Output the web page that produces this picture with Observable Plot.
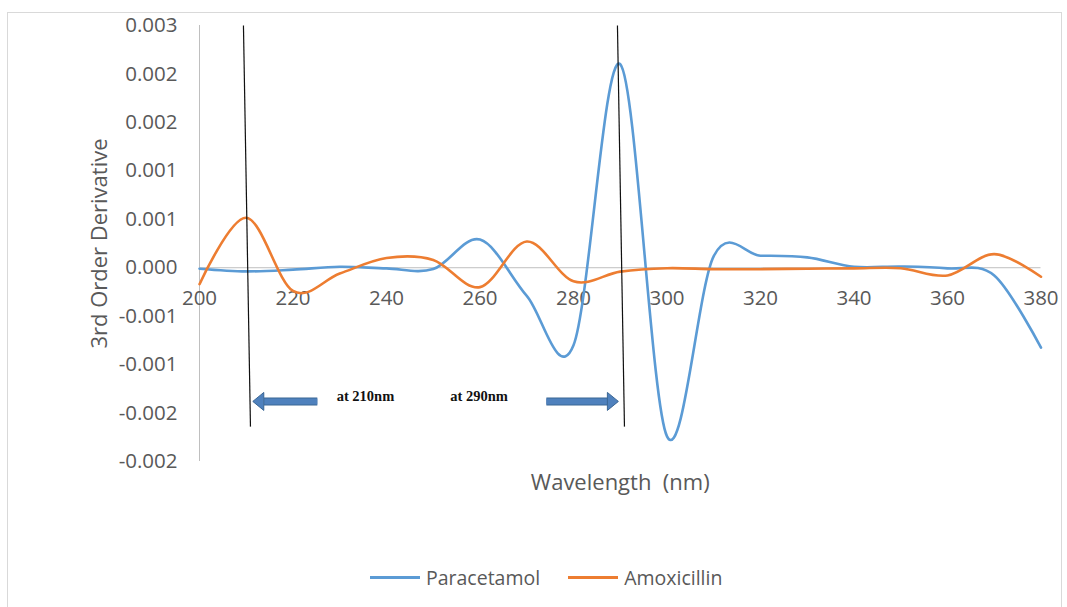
<!DOCTYPE html>
<html>
<head>
<meta charset="utf-8">
<script src="https://cdn.jsdelivr.net/npm/d3@7"></script>
<script src="https://cdn.jsdelivr.net/npm/@observablehq/plot@0.6"></script>
<style>
  html, body { margin: 0; padding: 0; background: #fff; }
  #wrap { position: relative; width: 1067px; height: 607px; overflow: hidden; font-family: "Open Sans", sans-serif; }
  #frame { position: absolute; left: 7px; top: 12px; width: 1055px; height: 600px; border: 1px solid #d9d9d9; box-sizing: border-box; }
  #chart { position: absolute; left: 0; top: 0; }
  #legend { position: absolute; left: 370px; top: 563px; height: 28px; display: flex; align-items: center; font-size: 19.5px; color: #595959; }
  .item { display: flex; align-items: center; margin-right: 28px; }
  .swatch { width: 50px; height: 3px; margin-right: 6px; }
</style>
</head>
<body>
<div id="wrap">
  <div id="frame"></div>
  <div id="chart"></div>
  <div id="legend"></div>
</div>
<script>
// ---- data (10 nm steps) ----
const wavelength = [200,210,220,230,240,250,260,270,280,290,300,310,320,330,340,350,360,370,380];
const paracetamol = [-0.00001,-0.000038,-0.00002,0.00001,-0.000007,-0.000014,0.00029,-0.00029,-0.0008,0.0021,-0.00174,0.00012,0.000124,0.000107,0.00001,0.000013,-0.000007,-0.00008,-0.000825];
const amoxicillin = [-0.00017,0.000515,-0.00024,-0.00006,0.0001,0.00008,-0.0002,0.00027,-0.00014,-0.00004,-0.000005,-0.000015,-0.000015,-0.00001,-0.000007,-0.000005,-0.00008,0.00014,-0.000093];

const seriesNames = ["Paracetamol", "Amoxicillin"];
const seriesColors = ["#5b9bd5", "#ed7d31"];

const xTicks = [200,220,240,260,280,300,320,340,360,380];
const yTicks = [0.0025,0.002,0.0015,0.001,0.0005,0,-0.0005,-0.001,-0.0015,-0.002];
const yTickLabels = ["0.003","0.002","0.002","0.001","0.001","0.000","-0.001","-0.001","-0.002","-0.002"];

// annotation: marker lines at 210 nm and 290 nm
const markerTopX = [209.4, 289.4];
const markerBottomX = [210.9, 290.9];
const markerTopY = 0.0025;
const markerBottomY = -0.00164;
// block arrows
const arrowY = -0.00138;
const arrowTail = [225.2, 274.2];
const arrowShaftEnd = [213.8, 287.3];
const arrowTip = [211.4, 289.6];
const arrowLabels = ["at 210nm", "at 290nm"];
const arrowLabelX = [235.5, 259.8];
const arrowLabelY = -0.00133;

// ---- build tables ----
const rows = [];
[paracetamol, amoxicillin].forEach((vals, s) => {
  wavelength.forEach((w, i) => rows.push({series: seriesNames[s], wavelength: w, value: vals[i]}));
});
const labelMap = new Map(yTicks.map((t, i) => [t, yTickLabels[i]]));
const markers = markerTopX.map((x, i) => ({x1: x, x2: markerBottomX[i], y1: markerTopY, y2: markerBottomY}));
const arrows = arrowTail.map((t, i) => ({tail: t, end: arrowShaftEnd[i], tip: arrowTip[i], dir: t < arrowTip[i] ? 1 : -1}));
const annot = arrowLabels.map((t, i) => ({text: t, x: arrowLabelX[i]}));

// arrow head symbol: tip at origin, pointing up
const arrowHead = {
  draw(context) {
    context.moveTo(0, 0);
    context.lineTo(9, 11);
    context.lineTo(-9, 11);
    context.closePath();
  }
};

const gray = "#595959";
const chart = Plot.plot({
  width: 1067,
  height: 550,
  marginLeft: 199,
  marginRight: 26.5,
  marginTop: 25,
  marginBottom: 89,
  style: {fontFamily: "'Open Sans', sans-serif", fontSize: "20px", color: gray, background: "transparent"},
  x: {domain: [200, 380], axis: null},
  y: {domain: [-0.002, 0.0025]},
  marks: [
    Plot.ruleY([0], {stroke: "#bfbfbf", strokeWidth: 1}),
    Plot.ruleX([200], {stroke: "#bfbfbf", strokeWidth: 1}),
    Plot.axisY(yTicks, {tickSize: 0, tickPadding: 22, tickFormat: d => labelMap.get(d), label: null, fontSize: 20.5, fill: gray}),
    Plot.text(xTicks, {x: d => d, y: 0, dy: 31, text: d => String(d), fontSize: 20.5, fill: gray}),
    ...seriesNames.map((name, s) => Plot.line(rows.filter(r => r.series === name), {
      x: "wavelength", y: "value", stroke: seriesColors[s], strokeWidth: 2.6, curve: "cardinal"
    })),
    Plot.link(markers, {x1: "x1", y1: "y1", x2: "x2", y2: "y2", stroke: "#111", strokeWidth: 1.2}),
    Plot.link(arrows, {x1: "tail", x2: "end", y1: arrowY, y2: arrowY, stroke: "#3a6694", strokeWidth: 8}),
    Plot.link(arrows, {x1: "tail", x2: "end", y1: arrowY, y2: arrowY, stroke: "#4f81bd", strokeWidth: 6}),
    Plot.dot(arrows, {x: "tip", y: arrowY, symbol: arrowHead, r: 8, rotate: d => d.dir > 0 ? 90 : -90,
      fill: "#4f81bd", stroke: "#3a6694", strokeWidth: 1}),
    Plot.text(annot, {x: "x", y: arrowLabelY, text: "text", fontFamily: "'Liberation Serif', serif", fontWeight: "bold", fontSize: 14.5, fill: "#111"}),
    Plot.text(["Wavelength  (nm)"], {frameAnchor: "bottom", dy: 21, lineAnchor: "middle", textAnchor: "middle", fontSize: 22, fill: gray}),
    Plot.text(["3rd Order Derivative"], {frameAnchor: "left", dx: -100, rotate: -90, textAnchor: "middle", lineAnchor: "middle", fontSize: 22, fill: gray})
  ]
});
document.getElementById("chart").appendChild(chart);

// legend
const legend = document.getElementById("legend");
seriesNames.forEach((name, s) => {
  const item = document.createElement("div");
  item.className = "item";
  const sw = document.createElement("div");
  sw.className = "swatch";
  sw.style.background = seriesColors[s];
  const label = document.createElement("span");
  label.textContent = name;
  item.appendChild(sw);
  item.appendChild(label);
  legend.appendChild(item);
});
</script>
</body>
</html>
